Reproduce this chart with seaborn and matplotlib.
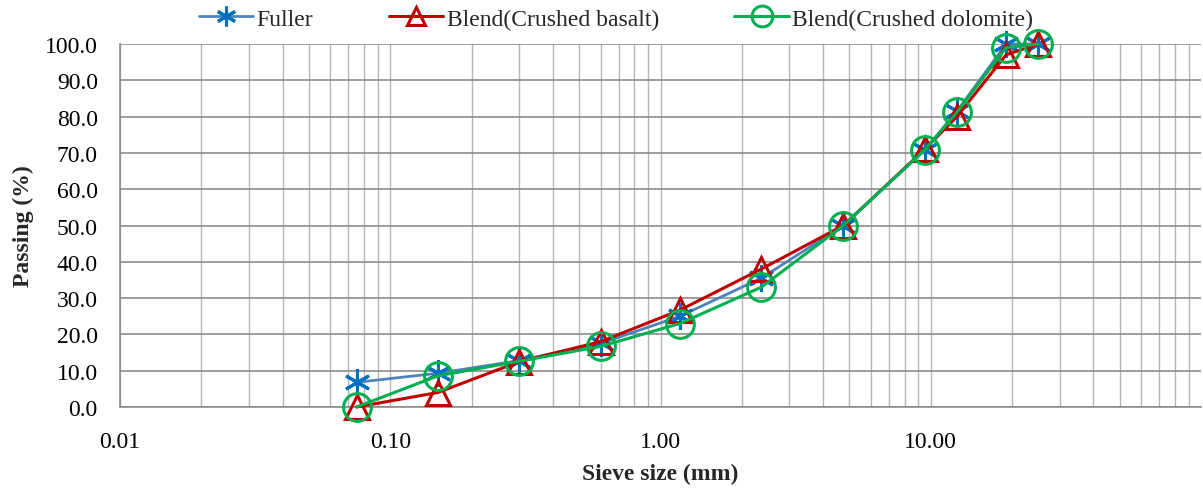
import numpy as np
import pandas as pd
import matplotlib
matplotlib.use("Agg")
import matplotlib.pyplot as plt
from matplotlib.ticker import FixedLocator, LogLocator, NullFormatter
import seaborn as sns

sieve = [0.075, 0.15, 0.3, 0.6, 1.18, 2.36, 4.75, 9.5, 12.5, 19.0, 25.0]
fuller = [6.8, 9.3, 12.8, 17.5, 25.0, 35.5, 50.0, 70.8, 81.5, 100.0, 100.0]
basalt = [0.0, 4.0, 12.5, 18.0, 26.7, 38.0, 50.0, 71.0, 80.0, 97.0, 100.0]
dolomite = [0.0, 8.6, 12.6, 16.7, 23.0, 33.0, 50.0, 70.8, 81.2, 99.0, 100.0]

x_ticks = [0.01, 0.1, 1.0, 10.0]
x_labels = ["0.01", "0.10", "1.00", "10.00"]
y_ticks = list(range(0, 101, 10))

sns.set_theme(style="white")
plt.rcParams['font.family'] = ['Liberation Serif', 'DejaVu Serif']

fig = plt.figure(figsize=(12.03, 4.89), dpi=100)
ax = fig.add_axes([0.0998, 0.1656, 0.8985, 0.7424])

series = [
    ("Fuller", fuller, "#4F81BD", "#0070C0", (6, 2, 0), 19, 2.0),
    ("Blend(Crushed basalt)", basalt, "#C00000", "#C00000", "^", 17, 2.2),
    ("Blend(Crushed dolomite)", dolomite, "#00B050", "#00B050", "o", 20, 2.2),
]
for name, vals, lc, mc, mk, ms, lw in series:
    df = pd.DataFrame({"x": sieve, "y": vals})
    sns.lineplot(data=df, x="x", y="y", ax=ax, color=lc, linewidth=lw,
                 marker=mk, markersize=ms, markerfacecolor="none",
                 markeredgecolor=mc, markeredgewidth=2.2, label=name,
                 zorder=3, clip_on=False)

ax.set_xscale("log")
ax.set_xlim(0.01, 100)
ax.set_ylim(0, 100)
ax.xaxis.set_major_locator(FixedLocator(x_ticks))
ax.set_xticklabels(x_labels)
ax.xaxis.set_minor_locator(LogLocator(base=10, subs=np.arange(2, 10)))
ax.xaxis.set_minor_formatter(NullFormatter())
ax.set_yticks(y_ticks)
ax.set_yticklabels([f"{v:.1f}" for v in y_ticks])

ax.grid(True, which="major", axis="y", color="#8c8c8c", linewidth=1.2)
ax.grid(True, which="both", axis="x", color="#b4b4b4", linewidth=1.0)
ax.set_axisbelow(True)

for s in ["top", "right"]:
    ax.spines[s].set_visible(False)
for s in ["left", "bottom"]:
    ax.spines[s].set_color("#8c8c8c")
    ax.spines[s].set_linewidth(1.2)

ax.tick_params(axis="both", which="major", direction="inout", length=8,
               width=1.2, color="#8c8c8c", labelsize=17, labelcolor="black")
ax.tick_params(axis="x", which="minor", length=0)
ax.tick_params(axis="x", which="major", pad=13)
ax.tick_params(axis="y", which="major", pad=12)

ax.set_xlabel("Sieve size (mm)", fontsize=17, fontweight="bold", labelpad=8)
ax.set_ylabel("Passing (%)", fontsize=17, fontweight="bold", labelpad=8)

if ax.legend_:
    ax.legend_.remove()
handles, labels = ax.get_legend_handles_labels()
fig.legend(handles, labels, loc="upper center", bbox_to_anchor=(0.512, 1.025),
           ncol=3, frameon=False, fontsize=17, handlelength=2.3,
           columnspacing=3.2, handletextpad=0.15, markerscale=0.75)

fig.savefig("out.png", dpi=100)
